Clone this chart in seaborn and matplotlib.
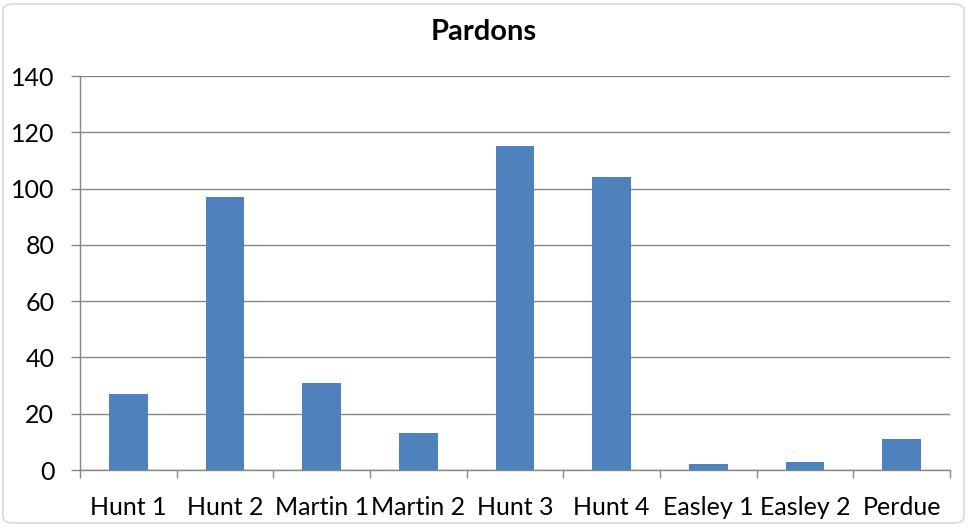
import numpy as np
import pandas as pd
import seaborn as sns
import matplotlib.pyplot as plt
from matplotlib.patches import FancyBboxPatch

# Données du graphique
categories = ['Hunt 1', 'Hunt 2', 'Martin 1', 'Martin 2', 'Hunt 3', 'Hunt 4',
              'Easley 1', 'Easley 2', 'Perdue']
pardons = [27, 97, 31, 13, 115, 104, 2, 3, 11]
y_ticks = [0, 20, 40, 60, 80, 100, 120, 140]

df = pd.DataFrame({'Categorie': categories, 'Pardons': pardons})

sns.set_style('white')
plt.rcParams['font.family'] = ['Lato', 'DejaVu Sans']
plt.rcParams['text.color'] = 'black'
plt.rcParams['xtick.color'] = 'black'
plt.rcParams['ytick.color'] = 'black'

grid_col = '#868686'

fig = plt.figure(figsize=(9.68, 5.28), dpi=100)
ax = fig.add_axes([80 / 968, 1 - 470 / 528, 870 / 968, 394 / 528])

sns.barplot(data=df, x='Categorie', y='Pardons', color='#4F81BD',
            width=0.40, saturation=1, linewidth=0, ax=ax, zorder=3)

ax.set_ylim(0, 140)
ax.set_xlim(-0.5, len(categories) - 0.5)
ax.set_yticks(y_ticks)
ax.yaxis.grid(True, color=grid_col, linewidth=1)
ax.set_axisbelow(True)

ax.set_xlabel('')
ax.set_ylabel('')

# Axes et graduations
for s in ['top', 'right']:
    ax.spines[s].set_visible(False)
for s in ['left', 'bottom']:
    ax.spines[s].set_color(grid_col)
    ax.spines[s].set_linewidth(1)

ax.tick_params(axis='y', length=6.5, width=1, color=grid_col, labelsize=18,
               labelcolor='black', pad=12, left=True)
ax.set_xticks(np.arange(-0.5, len(categories)), minor=True)
ax.tick_params(axis='x', which='minor', length=6, width=1, color=grid_col,
               bottom=True)
ax.tick_params(axis='x', which='major', length=0, labelsize=18,
               labelcolor='black', pad=19)

fig.text(0.5, 1 - 32 / 528, 'Pardons', ha='center', va='center',
         fontsize=21, fontweight='bold', color='black')

# Cadre du graphique
frame = FancyBboxPatch((3 / 968, 5 / 528), 961 / 968, 519 / 528,
                       boxstyle='round,pad=0,rounding_size=0.012',
                       transform=fig.transFigure, fill=False,
                       edgecolor='#D9D9D9', linewidth=1.2)
fig.patches.append(frame)

plt.savefig('out.png', dpi=100)
